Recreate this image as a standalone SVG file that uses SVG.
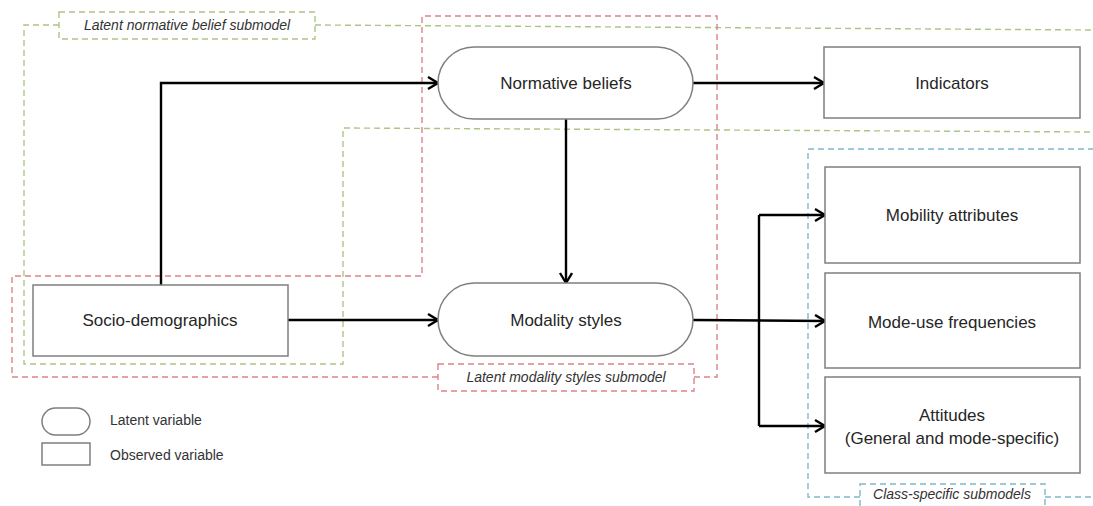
<svg xmlns="http://www.w3.org/2000/svg" width="1093" height="506" viewBox="0 0 1093 506">
<style>
.node{fill:#fff;stroke:#7f7f7f;stroke-width:1.5}
.lbl{font-family:"Liberation Sans",Arial,sans-serif;font-size:17px;fill:#262626;text-anchor:middle}
.sub{font-family:"Liberation Sans",Arial,sans-serif;font-size:14px;font-style:italic;fill:#333;text-anchor:middle}
.leg{font-family:"Liberation Sans",Arial,sans-serif;font-size:14px;fill:#333}
.g{fill:none;stroke:#adc584;stroke-width:1.4;stroke-dasharray:6 4}
.r{fill:none;stroke:#d9848a;stroke-width:1.4;stroke-dasharray:6 4}
.b{fill:none;stroke:#7fb8cb;stroke-width:1.4;stroke-dasharray:6 4}
.c{fill:none;stroke:#000;stroke-width:2.4}
.ca{fill:none;stroke:#000;stroke-width:2.4;marker-end:url(#arr)}
</style>
<defs>
<marker id="arr" markerUnits="userSpaceOnUse" markerWidth="14" markerHeight="16" refX="11" refY="7" orient="auto">
<path d="M1,1 L11,7 L1,13" fill="none" stroke="#000" stroke-width="2.4"/>
</marker>
</defs>

<g id="submodel-normative">
<path class="g" d="M59,25 L24,25 L24,364 L343,364 L343,128 L1093,132"/>
<path class="g" d="M315,25 L1093,30"/>
<rect class="g" x="59" y="12" width="256" height="27"/>
<text class="sub" x="187" y="30">Latent normative belief submodel</text>
</g>

<g id="submodel-modality">
<path class="r" d="M438,377 L12,377 L12,276 L422,276 L422,16 L717,16 L717,377 L694,377"/>
<rect class="r" x="438" y="364" width="256" height="27"/>
<text class="sub" x="566" y="382">Latent modality styles submodel</text>
</g>

<g id="submodel-class">
<path class="b" d="M860,497 L808,497 L808,149 L1093,149"/>
<path class="b" d="M1045,497 L1093,497"/>
<rect class="b" x="860" y="484" width="185" height="26"/>
<text class="sub" x="952" y="499">Class-specific submodels</text>
</g>

<g id="connectors">
<path class="ca" d="M161,285 L161,83 L438,83"/>
<path class="ca" d="M693,83 L824,83"/>
<path class="ca" d="M566,119 L566,283"/>
<path class="ca" d="M288,320 L438,320"/>
<path class="ca" d="M693,320 L825,321"/>
<path class="c" d="M759,426 L759,215"/>
<path class="ca" d="M759,215 L825,215"/>
<path class="ca" d="M759,426 L825,426"/>
</g>

<g id="node-normative">
<rect class="node" x="438" y="47" width="255" height="72" rx="36" ry="36"/>
<text class="lbl" x="566" y="89">Normative beliefs</text>
</g>
<g id="node-indicators">
<rect class="node" x="824" y="47" width="256" height="71"/>
<text class="lbl" x="952" y="89">Indicators</text>
</g>
<g id="node-socio">
<rect class="node" x="33" y="285" width="255" height="71"/>
<text class="lbl" x="160" y="326">Socio-demographics</text>
</g>
<g id="node-modality">
<rect class="node" x="438" y="283" width="255" height="73" rx="36.5" ry="36.5"/>
<text class="lbl" x="566" y="326">Modality styles</text>
</g>
<g id="node-mobility">
<rect class="node" x="825" y="167" width="255" height="96"/>
<text class="lbl" x="952" y="221">Mobility attributes</text>
</g>
<g id="node-modeuse">
<rect class="node" x="825" y="273" width="255" height="95"/>
<text class="lbl" x="952" y="328">Mode-use frequencies</text>
</g>
<g id="node-attitudes">
<rect class="node" x="825" y="377" width="255" height="96"/>
<text class="lbl" x="952" y="421">Attitudes</text>
<text class="lbl" x="952" y="444">(General and mode-specific)</text>
</g>

<g id="legend">
<rect class="node" x="42" y="408" width="48" height="27" rx="13.5" ry="13.5"/>
<text class="leg" x="110" y="425">Latent variable</text>
<rect class="node" x="42" y="443" width="48" height="22"/>
<text class="leg" x="110" y="460">Observed variable</text>
</g>
</svg>
